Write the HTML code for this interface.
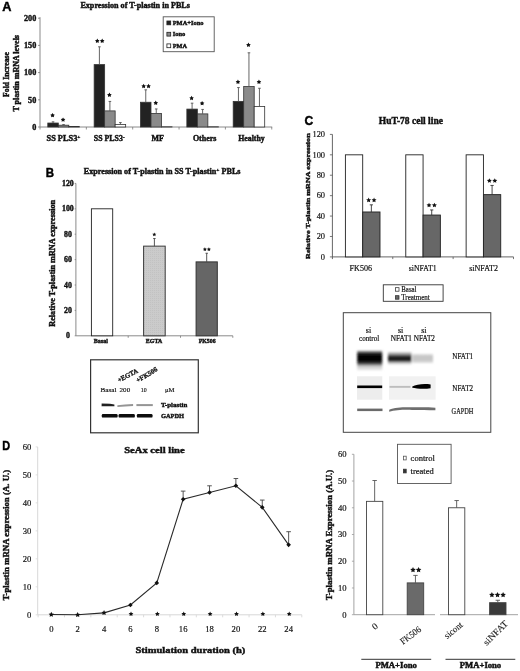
<!DOCTYPE html>
<html><head><meta charset="utf-8"><style>
html,body{margin:0;padding:0;background:#fff;}
body{width:520px;height:671px;overflow:hidden;}
svg{display:block;filter:grayscale(1);}
</style></head><body>
<svg width="520" height="671" viewBox="0 0 520 671">
<rect width="520" height="671" fill="#fff"/>
<defs>
<pattern id="dots" width="2" height="2" patternUnits="userSpaceOnUse">
<rect width="2" height="2" fill="#cbcbcb"/><rect width="1" height="1" fill="#c2c2c2"/>
</pattern>
<filter id="blur1" x="-20%" y="-50%" width="140%" height="200%"><feGaussianBlur stdDeviation="0.9"/></filter>
<filter id="blur2" x="-20%" y="-50%" width="140%" height="200%"><feGaussianBlur stdDeviation="0.55"/></filter>
<linearGradient id="g1" x1="0" y1="0" x2="0" y2="1">
<stop offset="0" stop-color="#b0b0b0"/><stop offset="0.12" stop-color="#151515"/><stop offset="0.35" stop-color="#000"/>
<stop offset="0.55" stop-color="#0a0a0a"/><stop offset="0.68" stop-color="#555"/><stop offset="0.78" stop-color="#c8c8c8"/><stop offset="1" stop-color="#ececec"/>
</linearGradient>
<linearGradient id="g2" x1="0" y1="0" x2="0" y2="1">
<stop offset="0" stop-color="#dadada"/><stop offset="0.2" stop-color="#888"/><stop offset="0.35" stop-color="#222"/>
<stop offset="0.7" stop-color="#1a1a1a"/><stop offset="0.85" stop-color="#bbb"/><stop offset="1" stop-color="#e8e8e8"/>
</linearGradient>
<linearGradient id="g3" x1="0" y1="0" x2="0" y2="1">
<stop offset="0" stop-color="#e0e0e0"/><stop offset="0.3" stop-color="#c4c4c4"/><stop offset="0.7" stop-color="#c8c8c8"/><stop offset="1" stop-color="#e4e4e4"/>
</linearGradient>
</defs>
<text x="2.3" y="11.48" font-family='"Liberation Sans", sans-serif' font-size="13" font-weight="bold" fill="#000" stroke="#000" stroke-width="0.45" textLength="9.2" lengthAdjust="spacingAndGlyphs">A</text>
<text x="80.4" y="8.04" font-family='"Liberation Serif", serif' font-size="7.38" font-weight="bold" fill="#111" stroke="#111" stroke-width="0.4" textLength="109.5" lengthAdjust="spacingAndGlyphs">Expression of T-plastin in PBLs</text>
<line x1="40" y1="17.2" x2="40" y2="127" stroke="#8a8a8a" stroke-width="1"/>
<line x1="40" y1="127" x2="272.2" y2="127" stroke="#8a8a8a" stroke-width="1"/>
<line x1="38" y1="127" x2="40" y2="127" stroke="#777" stroke-width="0.8"/>
<text x="36.3" y="129.71" text-anchor="end" font-family='"Liberation Serif", serif' font-size="8.2" font-weight="bold" fill="#111" stroke="#111" stroke-width="0.4">0</text>
<line x1="38" y1="99.8" x2="40" y2="99.8" stroke="#777" stroke-width="0.8"/>
<text x="36.3" y="102.51" text-anchor="end" font-family='"Liberation Serif", serif' font-size="8.2" font-weight="bold" fill="#111" stroke="#111" stroke-width="0.4">50</text>
<line x1="38" y1="72.6" x2="40" y2="72.6" stroke="#777" stroke-width="0.8"/>
<text x="36.3" y="75.31" text-anchor="end" font-family='"Liberation Serif", serif' font-size="8.2" font-weight="bold" fill="#111" stroke="#111" stroke-width="0.4">100</text>
<line x1="38" y1="45.4" x2="40" y2="45.4" stroke="#777" stroke-width="0.8"/>
<text x="36.3" y="48.11" text-anchor="end" font-family='"Liberation Serif", serif' font-size="8.2" font-weight="bold" fill="#111" stroke="#111" stroke-width="0.4">150</text>
<line x1="38" y1="18.2" x2="40" y2="18.2" stroke="#777" stroke-width="0.8"/>
<text x="36.3" y="20.91" text-anchor="end" font-family='"Liberation Serif", serif' font-size="8.2" font-weight="bold" fill="#111" stroke="#111" stroke-width="0.4">200</text>
<line x1="40" y1="127" x2="40" y2="129.5" stroke="#777" stroke-width="0.8"/>
<line x1="86.35" y1="127" x2="86.35" y2="129.5" stroke="#777" stroke-width="0.8"/>
<line x1="132.7" y1="127" x2="132.7" y2="129.5" stroke="#777" stroke-width="0.8"/>
<line x1="179.05" y1="127" x2="179.05" y2="129.5" stroke="#777" stroke-width="0.8"/>
<line x1="225.4" y1="127" x2="225.4" y2="129.5" stroke="#777" stroke-width="0.8"/>
<line x1="271.75" y1="127" x2="271.75" y2="129.5" stroke="#777" stroke-width="0.8"/>
<text transform="translate(6.5,96.9) rotate(-90)" x="0" y="2.38" font-family='"Liberation Serif", serif' font-size="7.2" font-weight="bold" fill="#111" stroke="#111" stroke-width="0.4" textLength="44.9" lengthAdjust="spacingAndGlyphs">Fold Increase</text>
<text transform="translate(16.7,111.6) rotate(-90)" x="0" y="2.38" font-family='"Liberation Serif", serif' font-size="7.2" font-weight="bold" fill="#111" stroke="#111" stroke-width="0.4" textLength="76.6" lengthAdjust="spacingAndGlyphs">T plastin mRNA levels</text>
<rect x="47.8" y="123.03" width="10.5" height="3.97" fill="#222" stroke="#333" stroke-width="0.8"/>
<line x1="53.05" y1="123.03" x2="53.05" y2="121.83" stroke="#555" stroke-width="0.9"/>
<line x1="51.75" y1="121.83" x2="54.35" y2="121.83" stroke="#555" stroke-width="0.9"/>
<polygon points="52.55,113 53.33,114.33 54.83,114.66 53.81,115.81 53.96,117.34 52.55,116.72 51.14,117.34 51.29,115.81 50.27,114.66 51.77,114.33" fill="#111"/>
<rect x="58.3" y="125.2" width="10.5" height="1.8" fill="#8a8a8a" stroke="#333" stroke-width="0.8"/>
<line x1="63.55" y1="125.2" x2="63.55" y2="124.55" stroke="#555" stroke-width="0.9"/>
<line x1="62.25" y1="124.55" x2="64.85" y2="124.55" stroke="#555" stroke-width="0.9"/>
<polygon points="63.05,117.4 63.83,118.73 65.33,119.06 64.31,120.21 64.46,121.74 63.05,121.12 61.64,121.74 61.79,120.21 60.77,119.06 62.27,118.73" fill="#111"/>
<rect x="68.8" y="126.51" width="10.5" height="0.49" fill="#fff" stroke="#333" stroke-width="0.8"/>
<rect x="94.15" y="64.6" width="10.5" height="62.4" fill="#222" stroke="#333" stroke-width="0.8"/>
<line x1="99.4" y1="64.6" x2="99.4" y2="46.81" stroke="#555" stroke-width="0.9"/>
<line x1="98.1" y1="46.81" x2="100.7" y2="46.81" stroke="#555" stroke-width="0.9"/>
<polygon points="97.3,38.6 98.08,39.93 99.58,40.26 98.56,41.41 98.71,42.94 97.3,42.32 95.89,42.94 96.04,41.41 95.02,40.26 96.52,39.93" fill="#111"/>
<polygon points="102.2,38.6 102.98,39.93 104.48,40.26 103.46,41.41 103.61,42.94 102.2,42.32 100.79,42.94 100.94,41.41 99.92,40.26 101.42,39.93" fill="#111"/>
<rect x="104.65" y="110.9" width="10.5" height="16.1" fill="#8a8a8a" stroke="#333" stroke-width="0.8"/>
<line x1="109.9" y1="110.9" x2="109.9" y2="101.43" stroke="#555" stroke-width="0.9"/>
<line x1="108.6" y1="101.43" x2="111.2" y2="101.43" stroke="#555" stroke-width="0.9"/>
<polygon points="109.4,92.6 110.18,93.93 111.68,94.26 110.66,95.41 110.81,96.94 109.4,96.32 107.99,96.94 108.14,95.41 107.12,94.26 108.62,93.93" fill="#111"/>
<rect x="115.15" y="124.44" width="10.5" height="2.56" fill="#fff" stroke="#333" stroke-width="0.8"/>
<line x1="120.4" y1="124.44" x2="120.4" y2="122.54" stroke="#555" stroke-width="0.9"/>
<line x1="119.1" y1="122.54" x2="121.7" y2="122.54" stroke="#555" stroke-width="0.9"/>
<rect x="140.5" y="102.25" width="10.5" height="24.75" fill="#222" stroke="#333" stroke-width="0.8"/>
<line x1="145.75" y1="102.25" x2="145.75" y2="89.84" stroke="#555" stroke-width="0.9"/>
<line x1="144.45" y1="89.84" x2="147.05" y2="89.84" stroke="#555" stroke-width="0.9"/>
<polygon points="143.65,83.8 144.43,85.13 145.93,85.46 144.91,86.61 145.06,88.14 143.65,87.52 142.24,88.14 142.39,86.61 141.37,85.46 142.87,85.13" fill="#111"/>
<polygon points="148.55,83.8 149.33,85.13 150.83,85.46 149.81,86.61 149.96,88.14 148.55,87.52 147.14,88.14 147.29,86.61 146.27,85.46 147.77,85.13" fill="#111"/>
<rect x="151" y="113.4" width="10.5" height="13.6" fill="#8a8a8a" stroke="#333" stroke-width="0.8"/>
<line x1="156.25" y1="113.4" x2="156.25" y2="108.94" stroke="#555" stroke-width="0.9"/>
<line x1="154.95" y1="108.94" x2="157.55" y2="108.94" stroke="#555" stroke-width="0.9"/>
<polygon points="155.75,100.6 156.53,101.93 158.03,102.26 157.01,103.41 157.16,104.94 155.75,104.32 154.34,104.94 154.49,103.41 153.47,102.26 154.97,101.93" fill="#111"/>
<rect x="161.5" y="126.73" width="10.5" height="0.27" fill="#fff" stroke="#333" stroke-width="0.8"/>
<rect x="186.85" y="109.1" width="10.5" height="17.9" fill="#222" stroke="#333" stroke-width="0.8"/>
<line x1="192.1" y1="109.1" x2="192.1" y2="103.17" stroke="#555" stroke-width="0.9"/>
<line x1="190.8" y1="103.17" x2="193.4" y2="103.17" stroke="#555" stroke-width="0.9"/>
<polygon points="191.6,95.8 192.38,97.13 193.88,97.46 192.86,98.61 193.01,100.14 191.6,99.52 190.19,100.14 190.34,98.61 189.32,97.46 190.82,97.13" fill="#111"/>
<rect x="197.35" y="113.89" width="10.5" height="13.11" fill="#8a8a8a" stroke="#333" stroke-width="0.8"/>
<line x1="202.6" y1="113.89" x2="202.6" y2="109.43" stroke="#555" stroke-width="0.9"/>
<line x1="201.3" y1="109.43" x2="203.9" y2="109.43" stroke="#555" stroke-width="0.9"/>
<polygon points="202.1,101 202.88,102.33 204.38,102.66 203.36,103.81 203.51,105.34 202.1,104.72 200.69,105.34 200.84,103.81 199.82,102.66 201.32,102.33" fill="#111"/>
<rect x="207.85" y="126.73" width="10.5" height="0.27" fill="#fff" stroke="#333" stroke-width="0.8"/>
<rect x="233.2" y="101.38" width="10.5" height="25.62" fill="#222" stroke="#333" stroke-width="0.8"/>
<line x1="238.45" y1="101.38" x2="238.45" y2="87.56" stroke="#555" stroke-width="0.9"/>
<line x1="237.15" y1="87.56" x2="239.75" y2="87.56" stroke="#555" stroke-width="0.9"/>
<polygon points="237.95,79.6 238.73,80.93 240.23,81.26 239.21,82.41 239.36,83.94 237.95,83.32 236.54,83.94 236.69,82.41 235.67,81.26 237.17,80.93" fill="#111"/>
<rect x="243.7" y="86.47" width="10.5" height="40.53" fill="#8a8a8a" stroke="#333" stroke-width="0.8"/>
<line x1="248.95" y1="86.47" x2="248.95" y2="52.8" stroke="#555" stroke-width="0.9"/>
<line x1="247.65" y1="52.8" x2="250.25" y2="52.8" stroke="#555" stroke-width="0.9"/>
<polygon points="248.45,42.6 249.23,43.93 250.73,44.26 249.71,45.41 249.86,46.94 248.45,46.32 247.04,46.94 247.19,45.41 246.17,44.26 247.67,43.93" fill="#111"/>
<rect x="254.2" y="106.44" width="10.5" height="20.56" fill="#fff" stroke="#333" stroke-width="0.8"/>
<line x1="259.45" y1="106.44" x2="259.45" y2="88.27" stroke="#555" stroke-width="0.9"/>
<line x1="258.15" y1="88.27" x2="260.75" y2="88.27" stroke="#555" stroke-width="0.9"/>
<polygon points="258.95,79.6 259.73,80.93 261.23,81.26 260.21,82.41 260.36,83.94 258.95,83.32 257.54,83.94 257.69,82.41 256.67,81.26 258.17,80.93" fill="#111"/>
<text x="46.5" y="141.25" font-family='"Liberation Serif", serif' font-size="7.74" font-weight="bold" fill="#111" stroke="#111" stroke-width="0.4" textLength="33.9" lengthAdjust="spacingAndGlyphs">SS PLS3<tspan font-size="5" dy="-3">+</tspan></text>
<text x="93.8" y="141.25" font-family='"Liberation Serif", serif' font-size="7.74" font-weight="bold" fill="#111" stroke="#111" stroke-width="0.4" textLength="30.8" lengthAdjust="spacingAndGlyphs">SS PLS3<tspan font-size="5" dy="-3">-</tspan></text>
<text x="151.6" y="141.25" font-family='"Liberation Serif", serif' font-size="7.74" font-weight="bold" fill="#111" stroke="#111" stroke-width="0.4" textLength="12.4" lengthAdjust="spacingAndGlyphs">MF</text>
<text x="192.9" y="141.25" font-family='"Liberation Serif", serif' font-size="7.74" font-weight="bold" fill="#111" stroke="#111" stroke-width="0.4" textLength="23.6" lengthAdjust="spacingAndGlyphs">Others</text>
<text x="238.2" y="141.25" font-family='"Liberation Serif", serif' font-size="7.74" font-weight="bold" fill="#111" stroke="#111" stroke-width="0.4" textLength="26.5" lengthAdjust="spacingAndGlyphs">Healthy</text>
<rect x="163.2" y="16.8" width="51" height="34.9" fill="#fff" stroke="#555" stroke-width="0.9"/>
<rect x="166.9" y="21" width="3.8" height="3.8" fill="#222" stroke="#222" stroke-width="0.8"/>
<text x="172.7" y="25.07" font-family='"Liberation Serif", serif' font-size="6.57" font-weight="bold" fill="#111" stroke="#111" stroke-width="0.4" textLength="30.8" lengthAdjust="spacingAndGlyphs">PMA+Iono</text>
<rect x="166.9" y="32.3" width="3.8" height="3.8" fill="#8a8a8a" stroke="#222" stroke-width="0.8"/>
<text x="172.7" y="36.37" font-family='"Liberation Serif", serif' font-size="6.57" font-weight="bold" fill="#111" stroke="#111" stroke-width="0.4" textLength="12.7" lengthAdjust="spacingAndGlyphs">Iono</text>
<rect x="166.9" y="43.9" width="3.8" height="3.8" fill="#fff" stroke="#222" stroke-width="0.8"/>
<text x="172.7" y="47.97" font-family='"Liberation Serif", serif' font-size="6.57" font-weight="bold" fill="#111" stroke="#111" stroke-width="0.4" textLength="14.4" lengthAdjust="spacingAndGlyphs">PMA</text>
<text x="45.8" y="176.71" font-family='"Liberation Sans", sans-serif' font-size="12.8" font-weight="bold" fill="#000" stroke="#000" stroke-width="0.45" textLength="8.3" lengthAdjust="spacingAndGlyphs">B</text>
<text x="83.8" y="173.94" font-family='"Liberation Serif", serif' font-size="7.38" font-weight="bold" fill="#111" stroke="#111" stroke-width="0.4" textLength="156.7" lengthAdjust="spacingAndGlyphs">Expression of T-plastin in SS T-plastin<tspan font-size="5" dy="-3">+</tspan><tspan dy="3"> PBLs</tspan></text>
<line x1="75.9" y1="183.4" x2="75.9" y2="335.8" stroke="#8a8a8a" stroke-width="1"/>
<line x1="75.9" y1="335.8" x2="232.8" y2="335.8" stroke="#8a8a8a" stroke-width="1"/>
<line x1="74.7" y1="335.8" x2="75.9" y2="335.8" stroke="#777" stroke-width="0.8"/>
<text x="67.9" y="338.37" text-anchor="middle" font-family='"Liberation Serif", serif' font-size="7.8" font-weight="bold" fill="#111" stroke="#111" stroke-width="0.4">0</text>
<line x1="74.7" y1="310.4" x2="75.9" y2="310.4" stroke="#777" stroke-width="0.8"/>
<text x="67.9" y="312.97" text-anchor="middle" font-family='"Liberation Serif", serif' font-size="7.8" font-weight="bold" fill="#111" stroke="#111" stroke-width="0.4">20</text>
<line x1="74.7" y1="285" x2="75.9" y2="285" stroke="#777" stroke-width="0.8"/>
<text x="67.9" y="287.57" text-anchor="middle" font-family='"Liberation Serif", serif' font-size="7.8" font-weight="bold" fill="#111" stroke="#111" stroke-width="0.4">40</text>
<line x1="74.7" y1="259.6" x2="75.9" y2="259.6" stroke="#777" stroke-width="0.8"/>
<text x="67.9" y="262.17" text-anchor="middle" font-family='"Liberation Serif", serif' font-size="7.8" font-weight="bold" fill="#111" stroke="#111" stroke-width="0.4">60</text>
<line x1="74.7" y1="234.2" x2="75.9" y2="234.2" stroke="#777" stroke-width="0.8"/>
<text x="67.9" y="236.77" text-anchor="middle" font-family='"Liberation Serif", serif' font-size="7.8" font-weight="bold" fill="#111" stroke="#111" stroke-width="0.4">80</text>
<line x1="74.7" y1="208.8" x2="75.9" y2="208.8" stroke="#777" stroke-width="0.8"/>
<text x="67.9" y="211.37" text-anchor="middle" font-family='"Liberation Serif", serif' font-size="7.8" font-weight="bold" fill="#111" stroke="#111" stroke-width="0.4">100</text>
<line x1="74.7" y1="183.4" x2="75.9" y2="183.4" stroke="#777" stroke-width="0.8"/>
<text x="67.9" y="185.97" text-anchor="middle" font-family='"Liberation Serif", serif' font-size="7.8" font-weight="bold" fill="#111" stroke="#111" stroke-width="0.4">120</text>
<line x1="128.2" y1="335.8" x2="128.2" y2="337.8" stroke="#777" stroke-width="0.8"/>
<line x1="180.5" y1="335.8" x2="180.5" y2="337.8" stroke="#777" stroke-width="0.8"/>
<line x1="232.8" y1="335.8" x2="232.8" y2="337.8" stroke="#777" stroke-width="0.8"/>
<text transform="translate(53,326.8) rotate(-90)" x="0" y="2.41" font-family='"Liberation Serif", serif' font-size="7.3" font-weight="bold" fill="#111" stroke="#111" stroke-width="0.4" textLength="126.9" lengthAdjust="spacingAndGlyphs">Relative T-plastin mRNA expression</text>
<rect x="91.4" y="208.8" width="21.3" height="127" fill="#fff" stroke="#222" stroke-width="0.9"/>
<rect x="143.6" y="246.14" width="21.6" height="89.66" fill="url(#dots)" stroke="#3a3a3a" stroke-width="1"/>
<line x1="154.4" y1="246.14" x2="154.4" y2="238.52" stroke="#444" stroke-width="0.9"/>
<line x1="153.2" y1="238.52" x2="155.6" y2="238.52" stroke="#444" stroke-width="0.9"/>
<rect x="196.1" y="261.89" width="21.2" height="73.91" fill="#666" stroke="#333" stroke-width="1"/>
<line x1="206.7" y1="261.89" x2="206.7" y2="253.25" stroke="#444" stroke-width="0.9"/>
<line x1="205.5" y1="253.25" x2="207.9" y2="253.25" stroke="#444" stroke-width="0.9"/>
<polygon points="154.3,232.4 154.92,233.65 156.3,233.85 155.3,234.82 155.53,236.2 154.3,235.55 153.07,236.2 153.3,234.82 152.3,233.85 153.68,233.65" fill="#111"/>
<polygon points="204.9,247.3 205.52,248.55 206.9,248.75 205.9,249.72 206.13,251.1 204.9,250.45 203.67,251.1 203.9,249.72 202.9,248.75 204.28,248.55" fill="#111"/>
<polygon points="208.9,247.3 209.52,248.55 210.9,248.75 209.9,249.72 210.13,251.1 208.9,250.45 207.67,251.1 207.9,249.72 206.9,248.75 208.28,248.55" fill="#111"/>
<text x="93.8" y="342.86" font-family='"Liberation Serif", serif' font-size="5.94" font-weight="bold" fill="#111" stroke="#111" stroke-width="0.4" textLength="14.2" lengthAdjust="spacingAndGlyphs">Basal</text>
<text x="145.8" y="342.86" font-family='"Liberation Serif", serif' font-size="5.94" font-weight="bold" fill="#111" stroke="#111" stroke-width="0.4" textLength="16.4" lengthAdjust="spacingAndGlyphs">EGTA</text>
<text x="198.8" y="342.86" font-family='"Liberation Serif", serif' font-size="5.94" font-weight="bold" fill="#111" stroke="#111" stroke-width="0.4" textLength="16.8" lengthAdjust="spacingAndGlyphs">FK506</text>
<rect x="90.6" y="359.8" width="107.7" height="73" fill="#fff" stroke="#333" stroke-width="1.2"/>
<text x="100.6" y="391.82" font-family='"Liberation Serif", serif' font-size="7.02" font-weight="normal" fill="#111" stroke="#111" stroke-width="0.18" textLength="15.8" lengthAdjust="spacingAndGlyphs">Basal</text>
<text x="119.6" y="391.82" font-family='"Liberation Serif", serif' font-size="7.02" font-weight="normal" fill="#111" stroke="#111" stroke-width="0.18" textLength="10.6" lengthAdjust="spacingAndGlyphs">200</text>
<text x="140.8" y="391.82" font-family='"Liberation Serif", serif' font-size="7.02" font-weight="normal" fill="#111" stroke="#111" stroke-width="0.18" textLength="5.9" lengthAdjust="spacingAndGlyphs">10</text>
<text x="165" y="391.82" font-family='"Liberation Serif", serif' font-size="7.02" font-weight="normal" fill="#111" stroke="#111" stroke-width="0.18" textLength="9.6" lengthAdjust="spacingAndGlyphs">μM</text>
<text transform="translate(119.0,382.4) rotate(-27.5)" font-family='"Liberation Serif", serif' font-size="6.8" font-weight="bold" fill="#111" stroke="#111" stroke-width="0.3" textLength="21.9" lengthAdjust="spacingAndGlyphs">+EGTA</text>
<text transform="translate(137.7,382.8) rotate(-31)" font-family='"Liberation Serif", serif' font-size="6.8" font-weight="bold" fill="#111" stroke="#111" stroke-width="0.3" textLength="23.7" lengthAdjust="spacingAndGlyphs">+FK506</text>
<g filter="url(#blur2)">
<path d="M101.6,403.6 L110,403.8 L114.4,404.6 L114.4,406.2 L110,406.3 L101.6,406.2 Z" fill="#222"/>
<path d="M117.4,405.2 L125,404.4 L133.1,404.0 L133.1,406.0 L125,406.4 L117.4,407.0 Z" fill="#959595"/>
<rect x="136.4" y="404.1" width="16.4" height="2" fill="#959595" stroke="none" stroke-width="1"/>
<rect x="101.8" y="414.1" width="15.8" height="3.5" rx="1.2" fill="#080808"/>
<rect x="118.6" y="414.1" width="16.2" height="3.5" rx="1.2" fill="#080808"/>
<rect x="136.9" y="414.1" width="15.6" height="3.5" rx="1.2" fill="#080808"/>
</g>
<text x="160.9" y="406.62" font-family='"Liberation Serif", serif' font-size="7.02" font-weight="bold" fill="#111" stroke="#111" stroke-width="0.4" textLength="26.4" lengthAdjust="spacingAndGlyphs">T-plastin</text>
<text x="160.9" y="418.02" font-family='"Liberation Serif", serif' font-size="7.02" font-weight="bold" fill="#111" stroke="#111" stroke-width="0.4" textLength="23.2" lengthAdjust="spacingAndGlyphs">GAPDH</text>
<text x="304.6" y="124.61" font-family='"Liberation Sans", sans-serif' font-size="12.8" font-weight="bold" fill="#000" stroke="#000" stroke-width="0.45" textLength="8.7" lengthAdjust="spacingAndGlyphs">C</text>
<text x="378.8" y="124.29" font-family='"Liberation Serif", serif' font-size="9.36" font-weight="bold" fill="#111" stroke="#111" stroke-width="0.4" textLength="64.1" lengthAdjust="spacingAndGlyphs">HuT-78 cell line</text>
<line x1="332.4" y1="134.4" x2="332.4" y2="259.1" stroke="#555" stroke-width="0.9"/>
<line x1="332.4" y1="256.9" x2="513.5" y2="256.9" stroke="#555" stroke-width="0.9"/>
<line x1="329.9" y1="256.9" x2="332.4" y2="256.9" stroke="#555" stroke-width="0.8"/>
<text x="325" y="259.67" text-anchor="end" font-family='"Liberation Serif", serif' font-size="8.4" font-weight="normal" fill="#111" stroke="#111" stroke-width="0.18">0</text>
<line x1="329.9" y1="236.48" x2="332.4" y2="236.48" stroke="#555" stroke-width="0.8"/>
<text x="325" y="239.26" text-anchor="end" font-family='"Liberation Serif", serif' font-size="8.4" font-weight="normal" fill="#111" stroke="#111" stroke-width="0.18">20</text>
<line x1="329.9" y1="216.07" x2="332.4" y2="216.07" stroke="#555" stroke-width="0.8"/>
<text x="325" y="218.84" text-anchor="end" font-family='"Liberation Serif", serif' font-size="8.4" font-weight="normal" fill="#111" stroke="#111" stroke-width="0.18">40</text>
<line x1="329.9" y1="195.65" x2="332.4" y2="195.65" stroke="#555" stroke-width="0.8"/>
<text x="325" y="198.42" text-anchor="end" font-family='"Liberation Serif", serif' font-size="8.4" font-weight="normal" fill="#111" stroke="#111" stroke-width="0.18">60</text>
<line x1="329.9" y1="175.23" x2="332.4" y2="175.23" stroke="#555" stroke-width="0.8"/>
<text x="325" y="178.01" text-anchor="end" font-family='"Liberation Serif", serif' font-size="8.4" font-weight="normal" fill="#111" stroke="#111" stroke-width="0.18">80</text>
<line x1="329.9" y1="154.82" x2="332.4" y2="154.82" stroke="#555" stroke-width="0.8"/>
<text x="325" y="157.59" text-anchor="end" font-family='"Liberation Serif", serif' font-size="8.4" font-weight="normal" fill="#111" stroke="#111" stroke-width="0.18">100</text>
<line x1="329.9" y1="134.4" x2="332.4" y2="134.4" stroke="#555" stroke-width="0.8"/>
<text x="325" y="137.17" text-anchor="end" font-family='"Liberation Serif", serif' font-size="8.4" font-weight="normal" fill="#111" stroke="#111" stroke-width="0.18">120</text>
<line x1="392.77" y1="256.9" x2="392.77" y2="259.1" stroke="#555" stroke-width="0.8"/>
<line x1="453.13" y1="256.9" x2="453.13" y2="259.1" stroke="#555" stroke-width="0.8"/>
<line x1="513.5" y1="256.9" x2="513.5" y2="259.1" stroke="#555" stroke-width="0.8"/>
<text transform="translate(307.8,258.9) rotate(-90)" x="0" y="2.28" font-family='"Liberation Serif", serif' font-size="6.9" font-weight="bold" fill="#111" stroke="#111" stroke-width="0.4" textLength="125.6" lengthAdjust="spacingAndGlyphs">Relative T-plastin mRNA expression</text>
<rect x="345.4" y="154.82" width="17.3" height="102.08" fill="#fff" stroke="#222" stroke-width="0.9"/>
<rect x="362.7" y="211.98" width="17.3" height="44.92" fill="#676767" stroke="#222" stroke-width="0.9"/>
<line x1="371.35" y1="211.98" x2="371.35" y2="204.84" stroke="#333" stroke-width="0.9"/>
<line x1="369.75" y1="204.84" x2="372.95" y2="204.84" stroke="#333" stroke-width="0.9"/>
<polygon points="368.65,197.54 369.38,199.13 371.12,199.33 369.84,200.52 370.18,202.24 368.65,201.39 367.12,202.24 367.46,200.52 366.18,199.33 367.92,199.13" fill="#111"/>
<polygon points="374.05,197.54 374.78,199.13 376.52,199.33 375.24,200.52 375.58,202.24 374.05,201.39 372.52,202.24 372.86,200.52 371.58,199.33 373.32,199.13" fill="#111"/>
<rect x="405.77" y="154.82" width="17.3" height="102.08" fill="#fff" stroke="#222" stroke-width="0.9"/>
<rect x="423.07" y="215.05" width="17.3" height="41.85" fill="#676767" stroke="#222" stroke-width="0.9"/>
<line x1="431.72" y1="215.05" x2="431.72" y2="209.94" stroke="#333" stroke-width="0.9"/>
<line x1="430.12" y1="209.94" x2="433.32" y2="209.94" stroke="#333" stroke-width="0.9"/>
<polygon points="429.02,202.64 429.75,204.23 431.49,204.44 430.2,205.63 430.54,207.35 429.02,206.49 427.49,207.35 427.83,205.63 426.54,204.44 428.28,204.23" fill="#111"/>
<polygon points="434.42,202.64 435.15,204.23 436.89,204.44 435.6,205.63 435.94,207.35 434.42,206.49 432.89,207.35 433.23,205.63 431.94,204.44 433.68,204.23" fill="#111"/>
<rect x="466.13" y="154.82" width="17.3" height="102.08" fill="#fff" stroke="#222" stroke-width="0.9"/>
<rect x="483.43" y="194.63" width="17.3" height="62.27" fill="#676767" stroke="#222" stroke-width="0.9"/>
<line x1="492.08" y1="194.63" x2="492.08" y2="185.44" stroke="#333" stroke-width="0.9"/>
<line x1="490.48" y1="185.44" x2="493.68" y2="185.44" stroke="#333" stroke-width="0.9"/>
<polygon points="489.38,178.14 490.12,179.73 491.86,179.94 490.57,181.13 490.91,182.85 489.38,181.99 487.86,182.85 488.2,181.13 486.91,179.94 488.65,179.73" fill="#111"/>
<polygon points="494.78,178.14 495.52,179.73 497.26,179.94 495.97,181.13 496.31,182.85 494.78,181.99 493.26,182.85 493.6,181.13 492.31,179.94 494.05,179.73" fill="#111"/>
<text x="349.6" y="271.34" font-family='"Liberation Serif", serif' font-size="7.38" font-weight="normal" fill="#111" stroke="#111" stroke-width="0.18" textLength="22.4" lengthAdjust="spacingAndGlyphs">FK506</text>
<text x="408.8" y="271.34" font-family='"Liberation Serif", serif' font-size="7.38" font-weight="normal" fill="#111" stroke="#111" stroke-width="0.18" textLength="27.7" lengthAdjust="spacingAndGlyphs">siNFAT1</text>
<text x="469.2" y="271.34" font-family='"Liberation Serif", serif' font-size="7.38" font-weight="normal" fill="#111" stroke="#111" stroke-width="0.18" textLength="28.8" lengthAdjust="spacingAndGlyphs">siNFAT2</text>
<rect x="383.3" y="284.8" width="59.8" height="16.5" fill="#fff" stroke="#333" stroke-width="0.9"/>
<rect x="395.5" y="287.7" width="3.5" height="3.5" fill="#fff" stroke="#222" stroke-width="0.7"/>
<rect x="395.5" y="295.7" width="3.5" height="3.5" fill="#676767" stroke="#222" stroke-width="0.7"/>
<text x="401.3" y="292.37" font-family='"Liberation Serif", serif' font-size="7.47" font-weight="normal" fill="#111" stroke="#111" stroke-width="0.18" textLength="15.2" lengthAdjust="spacingAndGlyphs">Basal</text>
<text x="401.3" y="300.37" font-family='"Liberation Serif", serif' font-size="7.47" font-weight="normal" fill="#111" stroke="#111" stroke-width="0.18" textLength="28.5" lengthAdjust="spacingAndGlyphs">Treatment</text>
<rect x="343.3" y="312.7" width="147.5" height="119.6" fill="#fff" stroke="#444" stroke-width="1"/>
<text x="368.5" y="333.04" text-anchor="middle" font-family='"Liberation Serif", serif' font-size="8" font-weight="normal" fill="#111" stroke="#111" stroke-width="0.18">si</text>
<text x="359" y="341.08" font-family='"Liberation Serif", serif' font-size="7.2" font-weight="normal" fill="#111" stroke="#111" stroke-width="0.18" textLength="20.2" lengthAdjust="spacingAndGlyphs">control</text>
<text x="400.6" y="333.04" text-anchor="middle" font-family='"Liberation Serif", serif' font-size="8" font-weight="normal" fill="#111" stroke="#111" stroke-width="0.18">si</text>
<text x="390.8" y="341.08" font-family='"Liberation Serif", serif' font-size="7.2" font-weight="normal" fill="#111" stroke="#111" stroke-width="0.18" textLength="21.2" lengthAdjust="spacingAndGlyphs">NFAT1</text>
<text x="423.8" y="333.04" text-anchor="middle" font-family='"Liberation Serif", serif' font-size="8" font-weight="normal" fill="#111" stroke="#111" stroke-width="0.18">si</text>
<text x="413.8" y="341.08" font-family='"Liberation Serif", serif' font-size="7.2" font-weight="normal" fill="#111" stroke="#111" stroke-width="0.18" textLength="21.2" lengthAdjust="spacingAndGlyphs">NFAT2</text>
<text x="452.3" y="359.44" font-family='"Liberation Serif", serif' font-size="7.38" font-weight="normal" fill="#111" stroke="#111" stroke-width="0.18" textLength="20.7" lengthAdjust="spacingAndGlyphs">NFAT1</text>
<text x="452.3" y="391.04" font-family='"Liberation Serif", serif' font-size="7.38" font-weight="normal" fill="#111" stroke="#111" stroke-width="0.18" textLength="20.7" lengthAdjust="spacingAndGlyphs">NFAT2</text>
<text x="451.6" y="414.44" font-family='"Liberation Serif", serif' font-size="7.38" font-weight="normal" fill="#111" stroke="#111" stroke-width="0.18" textLength="21.7" lengthAdjust="spacingAndGlyphs">GAPDH</text>
<g filter="url(#blur1)">
<rect x="357.2" y="350.8" width="25" height="19.5" fill="url(#g1)" stroke="none" stroke-width="1"/>
<rect x="388" y="352" width="23.4" height="12.5" fill="url(#g2)" stroke="none" stroke-width="1"/>
<rect x="412.3" y="354" width="20.7" height="9" fill="url(#g3)" stroke="none" stroke-width="1"/>
</g>
<rect x="357" y="376.3" width="25.3" height="23.4" fill="#ededed" stroke="none" stroke-width="1"/>
<rect x="389" y="376.3" width="46.6" height="23.4" fill="#f1f1f1" stroke="none" stroke-width="1"/>
<g filter="url(#blur2)">
<rect x="357.2" y="385.5" width="25" height="2.6" fill="#050505" stroke="none" stroke-width="1"/>
<rect x="389.5" y="385.9" width="21" height="1.9" fill="#bdbdbd" stroke="none" stroke-width="1"/>
<path d="M412.3,386.6 C416,384.2 424,383.5 430.6,384.4 L430.6,388.3 C424,389.3 416,388.6 412.3,387.8 Z" fill="#050505"/>
<rect x="357.2" y="408.6" width="25.3" height="2.5" fill="#6a6a6a" stroke="none" stroke-width="1"/>
<path d="M389.2,409.7 C395,407.3 405,407.0 412,407.3 C420,407.3 428,407.1 435.4,407.7 L435.4,410.3 C428,409.9 420,409.9 412,409.9 C405,409.7 395,409.8 389.2,411.8 Z" fill="#6e6e6e"/>
</g>
<text x="2.2" y="450.31" font-family='"Liberation Sans", sans-serif' font-size="12.8" font-weight="bold" fill="#000" stroke="#000" stroke-width="0.45" textLength="7.9" lengthAdjust="spacingAndGlyphs">D</text>
<text x="124.2" y="453.31" font-family='"Liberation Serif", serif' font-size="8.82" font-weight="bold" fill="#111" stroke="#111" stroke-width="0.4" textLength="60.5" lengthAdjust="spacingAndGlyphs">SeAx cell line</text>
<line x1="37.7" y1="446.9" x2="37.7" y2="614.8" stroke="#d8d8d8" stroke-width="1"/>
<line x1="37.7" y1="614.8" x2="301.8" y2="614.8" stroke="#d8d8d8" stroke-width="1"/>
<line x1="38.1" y1="614.8" x2="38.1" y2="617.3" stroke="#d8d8d8" stroke-width="0.9"/>
<line x1="64.47" y1="614.8" x2="64.47" y2="617.3" stroke="#d8d8d8" stroke-width="0.9"/>
<line x1="90.84" y1="614.8" x2="90.84" y2="617.3" stroke="#d8d8d8" stroke-width="0.9"/>
<line x1="117.21" y1="614.8" x2="117.21" y2="617.3" stroke="#d8d8d8" stroke-width="0.9"/>
<line x1="143.58" y1="614.8" x2="143.58" y2="617.3" stroke="#d8d8d8" stroke-width="0.9"/>
<line x1="169.95" y1="614.8" x2="169.95" y2="617.3" stroke="#d8d8d8" stroke-width="0.9"/>
<line x1="196.32" y1="614.8" x2="196.32" y2="617.3" stroke="#d8d8d8" stroke-width="0.9"/>
<line x1="222.69" y1="614.8" x2="222.69" y2="617.3" stroke="#d8d8d8" stroke-width="0.9"/>
<line x1="249.06" y1="614.8" x2="249.06" y2="617.3" stroke="#d8d8d8" stroke-width="0.9"/>
<line x1="275.43" y1="614.8" x2="275.43" y2="617.3" stroke="#d8d8d8" stroke-width="0.9"/>
<line x1="301.8" y1="614.8" x2="301.8" y2="617.3" stroke="#d8d8d8" stroke-width="0.9"/>
<line x1="35.7" y1="614.8" x2="37.7" y2="614.8" stroke="#d8d8d8" stroke-width="0.8"/>
<text x="31.3" y="617.64" text-anchor="end" font-family='"Liberation Serif", serif' font-size="8.6" font-weight="normal" fill="#111" stroke="#111" stroke-width="0.18">0</text>
<line x1="35.7" y1="586.82" x2="37.7" y2="586.82" stroke="#d8d8d8" stroke-width="0.8"/>
<text x="31.3" y="589.65" text-anchor="end" font-family='"Liberation Serif", serif' font-size="8.6" font-weight="normal" fill="#111" stroke="#111" stroke-width="0.18">10</text>
<line x1="35.7" y1="558.83" x2="37.7" y2="558.83" stroke="#d8d8d8" stroke-width="0.8"/>
<text x="31.3" y="561.67" text-anchor="end" font-family='"Liberation Serif", serif' font-size="8.6" font-weight="normal" fill="#111" stroke="#111" stroke-width="0.18">20</text>
<line x1="35.7" y1="530.85" x2="37.7" y2="530.85" stroke="#d8d8d8" stroke-width="0.8"/>
<text x="31.3" y="533.69" text-anchor="end" font-family='"Liberation Serif", serif' font-size="8.6" font-weight="normal" fill="#111" stroke="#111" stroke-width="0.18">30</text>
<line x1="35.7" y1="502.87" x2="37.7" y2="502.87" stroke="#d8d8d8" stroke-width="0.8"/>
<text x="31.3" y="505.7" text-anchor="end" font-family='"Liberation Serif", serif' font-size="8.6" font-weight="normal" fill="#111" stroke="#111" stroke-width="0.18">40</text>
<line x1="35.7" y1="474.88" x2="37.7" y2="474.88" stroke="#d8d8d8" stroke-width="0.8"/>
<text x="31.3" y="477.72" text-anchor="end" font-family='"Liberation Serif", serif' font-size="8.6" font-weight="normal" fill="#111" stroke="#111" stroke-width="0.18">50</text>
<line x1="35.7" y1="446.9" x2="37.7" y2="446.9" stroke="#d8d8d8" stroke-width="0.8"/>
<text x="31.3" y="449.74" text-anchor="end" font-family='"Liberation Serif", serif' font-size="8.6" font-weight="normal" fill="#111" stroke="#111" stroke-width="0.18">60</text>
<text transform="translate(6.9,600.6) rotate(-90)" x="0" y="2.44" font-family='"Liberation Serif", serif' font-size="7.4" font-weight="bold" fill="#111" stroke="#111" stroke-width="0.4" textLength="130.8" lengthAdjust="spacingAndGlyphs">T-plastin mRNA expression (A. U.)</text>
<line x1="183.15" y1="499.23" x2="183.15" y2="491.11" stroke="#444" stroke-width="0.9"/>
<line x1="180.85" y1="491.11" x2="185.45" y2="491.11" stroke="#444" stroke-width="0.9"/>
<line x1="209.52" y1="492.51" x2="209.52" y2="485.8" stroke="#444" stroke-width="0.9"/>
<line x1="207.22" y1="485.8" x2="211.82" y2="485.8" stroke="#444" stroke-width="0.9"/>
<line x1="235.89" y1="485.8" x2="235.89" y2="478.52" stroke="#444" stroke-width="0.9"/>
<line x1="233.59" y1="478.52" x2="238.19" y2="478.52" stroke="#444" stroke-width="0.9"/>
<line x1="262.26" y1="507.34" x2="262.26" y2="500.07" stroke="#444" stroke-width="0.9"/>
<line x1="259.96" y1="500.07" x2="264.56" y2="500.07" stroke="#444" stroke-width="0.9"/>
<line x1="288.63" y1="544.84" x2="288.63" y2="531.69" stroke="#444" stroke-width="0.9"/>
<line x1="286.33" y1="531.69" x2="290.93" y2="531.69" stroke="#444" stroke-width="0.9"/>
<polyline points="51.3,614.52 77.67,614.8 104.04,612.84 130.41,605.01 156.78,582.9 183.15,499.23 209.52,492.51 235.89,485.8 262.26,507.34 288.63,544.84" fill="none" stroke="#2a2a2a" stroke-width="1.1"/>
<polygon points="51.3,611.72 52.12,613.39 53.96,613.65 52.63,614.95 52.95,616.79 51.3,615.92 49.65,616.79 49.97,614.95 48.64,613.65 50.48,613.39" fill="#111"/>
<text x="51.3" y="631.64" text-anchor="middle" font-family='"Liberation Serif", serif' font-size="8.6" font-weight="normal" fill="#111" stroke="#111" stroke-width="0.18">0</text>
<polygon points="77.67,612 78.49,613.67 80.33,613.93 79,615.23 79.32,617.07 77.67,616.2 76.02,617.07 76.34,615.23 75.01,613.93 76.85,613.67" fill="#111"/>
<text x="77.67" y="631.64" text-anchor="middle" font-family='"Liberation Serif", serif' font-size="8.6" font-weight="normal" fill="#111" stroke="#111" stroke-width="0.18">2</text>
<polygon points="104.04,610.04 104.86,611.71 106.7,611.98 105.37,613.27 105.69,615.11 104.04,614.24 102.39,615.11 102.71,613.27 101.38,611.98 103.22,611.71" fill="#111"/>
<text x="104.04" y="631.64" text-anchor="middle" font-family='"Liberation Serif", serif' font-size="8.6" font-weight="normal" fill="#111" stroke="#111" stroke-width="0.18">4</text>
<polygon points="130.41,602.71 132.71,605.01 130.41,607.31 128.11,605.01" fill="#111"/>
<polygon points="131.01,611.5 131.74,612.99 133.39,613.23 132.2,614.39 132.48,616.02 131.01,615.25 129.54,616.02 129.82,614.39 128.63,613.23 130.28,612.99" fill="#111"/>
<text x="130.41" y="631.64" text-anchor="middle" font-family='"Liberation Serif", serif' font-size="8.6" font-weight="normal" fill="#111" stroke="#111" stroke-width="0.18">6</text>
<polygon points="156.78,580.6 159.08,582.9 156.78,585.2 154.48,582.9" fill="#111"/>
<polygon points="157.38,611.5 158.11,612.99 159.76,613.23 158.57,614.39 158.85,616.02 157.38,615.25 155.91,616.02 156.19,614.39 155,613.23 156.65,612.99" fill="#111"/>
<text x="156.78" y="631.64" text-anchor="middle" font-family='"Liberation Serif", serif' font-size="8.6" font-weight="normal" fill="#111" stroke="#111" stroke-width="0.18">8</text>
<polygon points="183.15,496.93 185.45,499.23 183.15,501.53 180.85,499.23" fill="#111"/>
<polygon points="183.75,611.5 184.48,612.99 186.13,613.23 184.94,614.39 185.22,616.02 183.75,615.25 182.28,616.02 182.56,614.39 181.37,613.23 183.02,612.99" fill="#111"/>
<text x="183.15" y="631.64" text-anchor="middle" font-family='"Liberation Serif", serif' font-size="8.6" font-weight="normal" fill="#111" stroke="#111" stroke-width="0.18">16</text>
<polygon points="209.52,490.21 211.82,492.51 209.52,494.81 207.22,492.51" fill="#111"/>
<polygon points="210.12,611.5 210.85,612.99 212.5,613.23 211.31,614.39 211.59,616.02 210.12,615.25 208.65,616.02 208.93,614.39 207.74,613.23 209.39,612.99" fill="#111"/>
<text x="209.52" y="631.64" text-anchor="middle" font-family='"Liberation Serif", serif' font-size="8.6" font-weight="normal" fill="#111" stroke="#111" stroke-width="0.18">18</text>
<polygon points="235.89,483.5 238.19,485.8 235.89,488.1 233.59,485.8" fill="#111"/>
<polygon points="236.49,611.5 237.22,612.99 238.87,613.23 237.68,614.39 237.96,616.02 236.49,615.25 235.02,616.02 235.3,614.39 234.11,613.23 235.76,612.99" fill="#111"/>
<text x="235.89" y="631.64" text-anchor="middle" font-family='"Liberation Serif", serif' font-size="8.6" font-weight="normal" fill="#111" stroke="#111" stroke-width="0.18">20</text>
<polygon points="262.26,505.04 264.56,507.34 262.26,509.64 259.96,507.34" fill="#111"/>
<polygon points="262.86,611.5 263.59,612.99 265.24,613.23 264.05,614.39 264.33,616.02 262.86,615.25 261.39,616.02 261.67,614.39 260.48,613.23 262.13,612.99" fill="#111"/>
<text x="262.26" y="631.64" text-anchor="middle" font-family='"Liberation Serif", serif' font-size="8.6" font-weight="normal" fill="#111" stroke="#111" stroke-width="0.18">22</text>
<polygon points="288.63,542.54 290.93,544.84 288.63,547.14 286.33,544.84" fill="#111"/>
<polygon points="289.23,611.5 289.96,612.99 291.61,613.23 290.42,614.39 290.7,616.02 289.23,615.25 287.76,616.02 288.04,614.39 286.85,613.23 288.5,612.99" fill="#111"/>
<text x="288.63" y="631.64" text-anchor="middle" font-family='"Liberation Serif", serif' font-size="8.6" font-weight="normal" fill="#111" stroke="#111" stroke-width="0.18">24</text>
<text x="135.4" y="652.85" font-family='"Liberation Serif", serif' font-size="8.64" font-weight="bold" fill="#111" stroke="#111" stroke-width="0.4" textLength="110" lengthAdjust="spacingAndGlyphs">Stimulation duration (h)</text>
<line x1="353.9" y1="454.3" x2="353.9" y2="614.7" stroke="#999" stroke-width="0.9"/>
<line x1="353.9" y1="614.7" x2="435" y2="614.7" stroke="#999" stroke-width="0.9"/>
<line x1="440" y1="614.7" x2="518" y2="614.7" stroke="#999" stroke-width="0.9"/>
<line x1="351.9" y1="614.7" x2="353.9" y2="614.7" stroke="#999" stroke-width="0.8"/>
<text x="346.6" y="617.54" text-anchor="end" font-family='"Liberation Serif", serif' font-size="8.6" font-weight="normal" fill="#111" stroke="#111" stroke-width="0.18">0</text>
<line x1="351.9" y1="587.97" x2="353.9" y2="587.97" stroke="#999" stroke-width="0.8"/>
<text x="346.6" y="590.8" text-anchor="end" font-family='"Liberation Serif", serif' font-size="8.6" font-weight="normal" fill="#111" stroke="#111" stroke-width="0.18">10</text>
<line x1="351.9" y1="561.23" x2="353.9" y2="561.23" stroke="#999" stroke-width="0.8"/>
<text x="346.6" y="564.07" text-anchor="end" font-family='"Liberation Serif", serif' font-size="8.6" font-weight="normal" fill="#111" stroke="#111" stroke-width="0.18">20</text>
<line x1="351.9" y1="534.5" x2="353.9" y2="534.5" stroke="#999" stroke-width="0.8"/>
<text x="346.6" y="537.34" text-anchor="end" font-family='"Liberation Serif", serif' font-size="8.6" font-weight="normal" fill="#111" stroke="#111" stroke-width="0.18">30</text>
<line x1="351.9" y1="507.77" x2="353.9" y2="507.77" stroke="#999" stroke-width="0.8"/>
<text x="346.6" y="510.6" text-anchor="end" font-family='"Liberation Serif", serif' font-size="8.6" font-weight="normal" fill="#111" stroke="#111" stroke-width="0.18">40</text>
<line x1="351.9" y1="481.03" x2="353.9" y2="481.03" stroke="#999" stroke-width="0.8"/>
<text x="346.6" y="483.87" text-anchor="end" font-family='"Liberation Serif", serif' font-size="8.6" font-weight="normal" fill="#111" stroke="#111" stroke-width="0.18">50</text>
<line x1="351.9" y1="454.3" x2="353.9" y2="454.3" stroke="#999" stroke-width="0.8"/>
<text x="346.6" y="457.14" text-anchor="end" font-family='"Liberation Serif", serif' font-size="8.6" font-weight="normal" fill="#111" stroke="#111" stroke-width="0.18">60</text>
<text transform="translate(330,600.3) rotate(-90)" x="0" y="2.44" font-family='"Liberation Serif", serif' font-size="7.4" font-weight="bold" fill="#111" stroke="#111" stroke-width="0.4" textLength="130.5" lengthAdjust="spacingAndGlyphs">T-plastin mRNA Expression (A.U.)</text>
<rect x="366.5" y="501.35" width="16.3" height="113.35" fill="#fff" stroke="#444" stroke-width="0.9"/>
<line x1="374.65" y1="501.35" x2="374.65" y2="480.5" stroke="#555" stroke-width="0.9"/>
<line x1="372.45" y1="480.5" x2="376.85" y2="480.5" stroke="#555" stroke-width="0.9"/>
<rect x="407.2" y="582.89" width="16.5" height="31.81" fill="#6a6a6a" stroke="#444" stroke-width="0.9"/>
<line x1="415.45" y1="582.89" x2="415.45" y2="575.4" stroke="#555" stroke-width="0.9"/>
<line x1="413.25" y1="575.4" x2="417.65" y2="575.4" stroke="#555" stroke-width="0.9"/>
<rect x="448.5" y="507.77" width="16.3" height="106.93" fill="#fff" stroke="#444" stroke-width="0.9"/>
<line x1="456.65" y1="507.77" x2="456.65" y2="500.55" stroke="#555" stroke-width="0.9"/>
<line x1="454.45" y1="500.55" x2="458.85" y2="500.55" stroke="#555" stroke-width="0.9"/>
<rect x="489.6" y="602.67" width="16.4" height="12.03" fill="#3a3a3a" stroke="#444" stroke-width="0.9"/>
<line x1="497.8" y1="602.67" x2="497.8" y2="600.26" stroke="#555" stroke-width="0.9"/>
<line x1="495.6" y1="600.26" x2="500" y2="600.26" stroke="#555" stroke-width="0.9"/>
<polygon points="413,567.1 413.82,568.87 415.76,569.1 414.32,570.43 414.7,572.35 413,571.39 411.3,572.35 411.68,570.43 410.24,569.1 412.18,568.87" fill="#111"/>
<polygon points="418.6,567.1 419.42,568.87 421.36,569.1 419.92,570.43 420.3,572.35 418.6,571.39 416.9,572.35 417.28,570.43 415.84,569.1 417.78,568.87" fill="#111"/>
<polygon points="491.9,592.1 492.72,593.87 494.66,594.1 493.22,595.43 493.6,597.35 491.9,596.39 490.2,597.35 490.58,595.43 489.14,594.1 491.08,593.87" fill="#111"/>
<polygon points="497.5,592.1 498.32,593.87 500.26,594.1 498.82,595.43 499.2,597.35 497.5,596.39 495.8,597.35 496.18,595.43 494.74,594.1 496.68,593.87" fill="#111"/>
<polygon points="503.1,592.1 503.92,593.87 505.86,594.1 504.42,595.43 504.8,597.35 503.1,596.39 501.4,597.35 501.78,595.43 500.34,594.1 502.28,593.87" fill="#111"/>
<rect x="397.5" y="444.3" width="53.6" height="39.2" fill="#fff" stroke="#555" stroke-width="0.9"/>
<rect x="403.4" y="456.2" width="2.8" height="3.7" fill="#fff" stroke="#555" stroke-width="0.8"/>
<rect x="403.4" y="469.2" width="2.8" height="3.7" fill="#333" stroke="#333" stroke-width="0.8"/>
<text x="410.6" y="460.95" font-family='"Liberation Serif", serif' font-size="7.74" font-weight="normal" fill="#111" stroke="#111" stroke-width="0.18" textLength="24.2" lengthAdjust="spacingAndGlyphs">control</text>
<text x="410.6" y="473.65" font-family='"Liberation Serif", serif' font-size="7.74" font-weight="normal" fill="#111" stroke="#111" stroke-width="0.18" textLength="23.1" lengthAdjust="spacingAndGlyphs">treated</text>
<text transform="translate(375,630.3) rotate(-40)" font-family='"Liberation Serif", serif' font-size="9.2" fill="#222" stroke="#222" stroke-width="0.12" textLength="4.8" lengthAdjust="spacingAndGlyphs">0</text>
<text transform="translate(403,644.8) rotate(-37)" font-family='"Liberation Serif", serif' font-size="9.2" fill="#222" stroke="#222" stroke-width="0.12" textLength="23.6" lengthAdjust="spacingAndGlyphs">FK506</text>
<text transform="translate(447.3,639.3) rotate(-40)" font-family='"Liberation Serif", serif' font-size="9.2" fill="#222" stroke="#222" stroke-width="0.12" textLength="21" lengthAdjust="spacingAndGlyphs">sicont</text>
<text transform="translate(486.7,646) rotate(-45)" font-family='"Liberation Serif", serif' font-size="9.2" fill="#222" stroke="#222" stroke-width="0.12" textLength="31" lengthAdjust="spacingAndGlyphs">siNFAT</text>
<line x1="361.3" y1="659.3" x2="431.2" y2="659.3" stroke="#333" stroke-width="1"/>
<line x1="445.5" y1="659.3" x2="515.3" y2="659.3" stroke="#333" stroke-width="1"/>
<text x="375.4" y="667.98" font-family='"Liberation Serif", serif' font-size="7.2" font-weight="bold" fill="#111" stroke="#111" stroke-width="0.4" textLength="41.5" lengthAdjust="spacingAndGlyphs">PMA+Iono</text>
<text x="459.8" y="667.98" font-family='"Liberation Serif", serif' font-size="7.2" font-weight="bold" fill="#111" stroke="#111" stroke-width="0.4" textLength="41.4" lengthAdjust="spacingAndGlyphs">PMA+Iono</text>
</svg>
</body></html>
